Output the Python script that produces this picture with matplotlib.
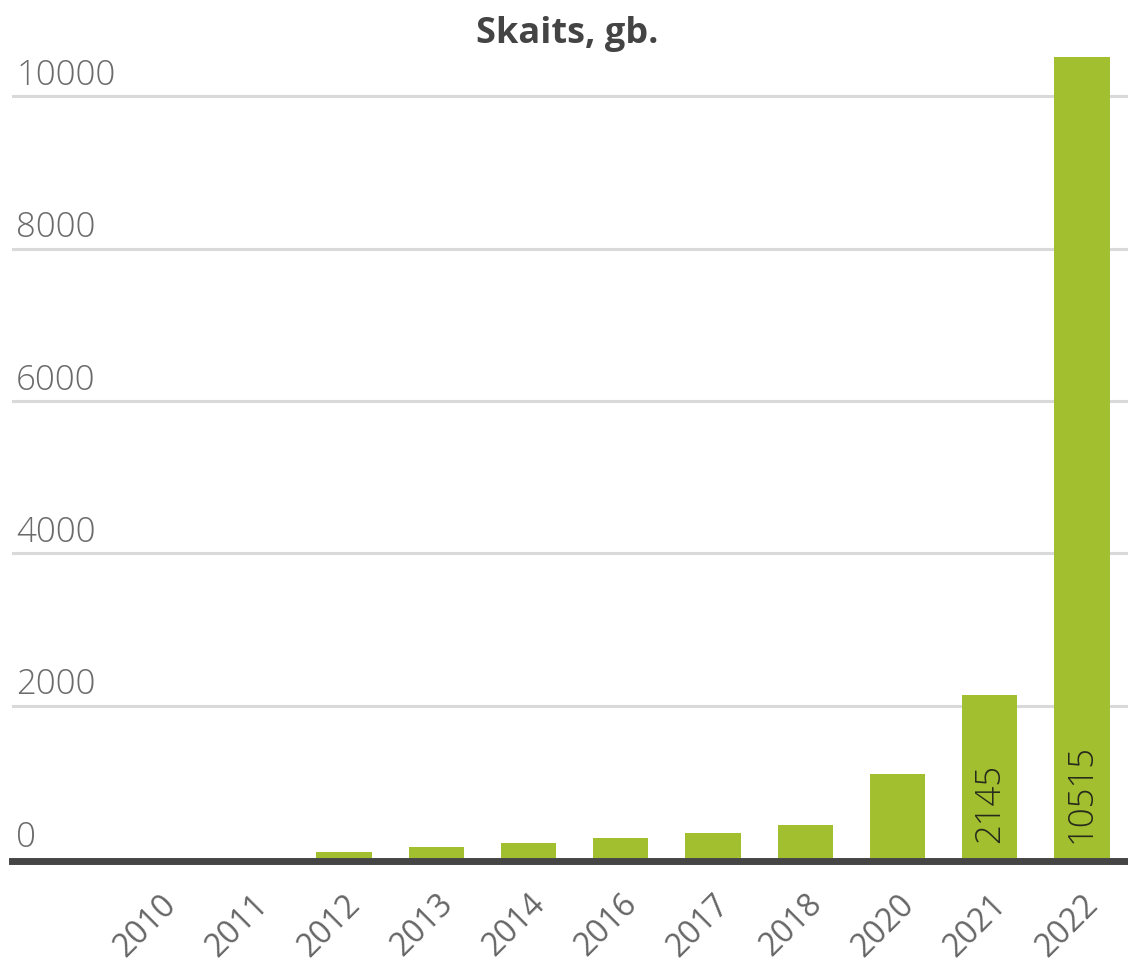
"""Bar chart: Skaits, gb. by year."""

import matplotlib

matplotlib.use("Agg")
import matplotlib.pyplot as plt
import matplotlib.transforms as mtransforms

years = ["2010", "2011", "2012", "2013", "2014", "2016", "2017", "2018", "2020", "2021", "2022"]
counts = [0, 0, 85, 140, 200, 260, 330, 435, 1100, 2145, 10515]
y_ticks = [0, 2000, 4000, 6000, 8000, 10000]
title = "Skaits, gb."

BAR_COLOR = "#a1bf2f"
GRID_COLOR = "#d9d9d9"
AXIS_COLOR = "#454545"
LABEL_COLOR = "#6b6b6b"

plt.rcParams["font.family"] = ["Open Sans", "DejaVu Sans"]

fig = plt.figure(figsize=(11.28, 9.66), dpi=100)
ax = fig.add_axes([0.0107, 0.1118, 0.9893, 0.8475])

x = list(range(len(years)))
bars = ax.bar(x, counts, width=0.6, color=BAR_COLOR, zorder=2)

ax.set_xlim(-1.6, 10.5)
ax.set_ylim(0, 10750)

# spines first: moving a spine resets the tick labels
for side in ("top", "right", "left"):
    ax.spines[side].set_visible(False)
ax.spines["bottom"].set_color(AXIS_COLOR)
ax.spines["bottom"].set_linewidth(5)
ax.spines["bottom"].set_position(("outward", 2.5))

# horizontal grid lines with labels sitting on top of them, Highcharts style
ax.set_yticks(y_ticks)
ax.tick_params(axis="y", left=False, labelleft=False)
for value in y_ticks[1:]:
    ax.axhline(value, color=GRID_COLOR, linewidth=2.2, zorder=1)
label_offset = mtransforms.ScaledTranslation(3 / 72, 2.5 / 72, fig.dpi_scale_trans)
for value in y_ticks:
    ax.text(
        0.0,
        value,
        f"{value}",
        transform=ax.get_yaxis_transform() + label_offset,
        ha="left",
        va="bottom",
        fontsize=25,
        fontweight="light",
        color=LABEL_COLOR,
    )

ax.tick_params(axis="x", length=0, pad=19, labelsize=23, labelcolor="#666666")
ax.set_xticks(x)
ax.set_xticklabels(years, rotation=45, ha="right", rotation_mode="anchor")

# value labels inside the tall bars
for bar, value in zip(bars, counts):
    if value < 1500:
        continue
    ax.annotate(
        f"{value}",
        (bar.get_x() + bar.get_width() / 2, 0),
        xytext=(0, 11),
        textcoords="offset points",
        rotation=90,
        ha="center",
        va="bottom",
        fontsize=25,
        fontweight="light",
        color="#262a1c",
        zorder=3,
    )

fig.text(0.503, 0.9555, title, ha="center", va="baseline", fontsize=26,
         fontweight="bold", color="#444444")

fig.savefig("out.png", dpi=100, facecolor="white")
